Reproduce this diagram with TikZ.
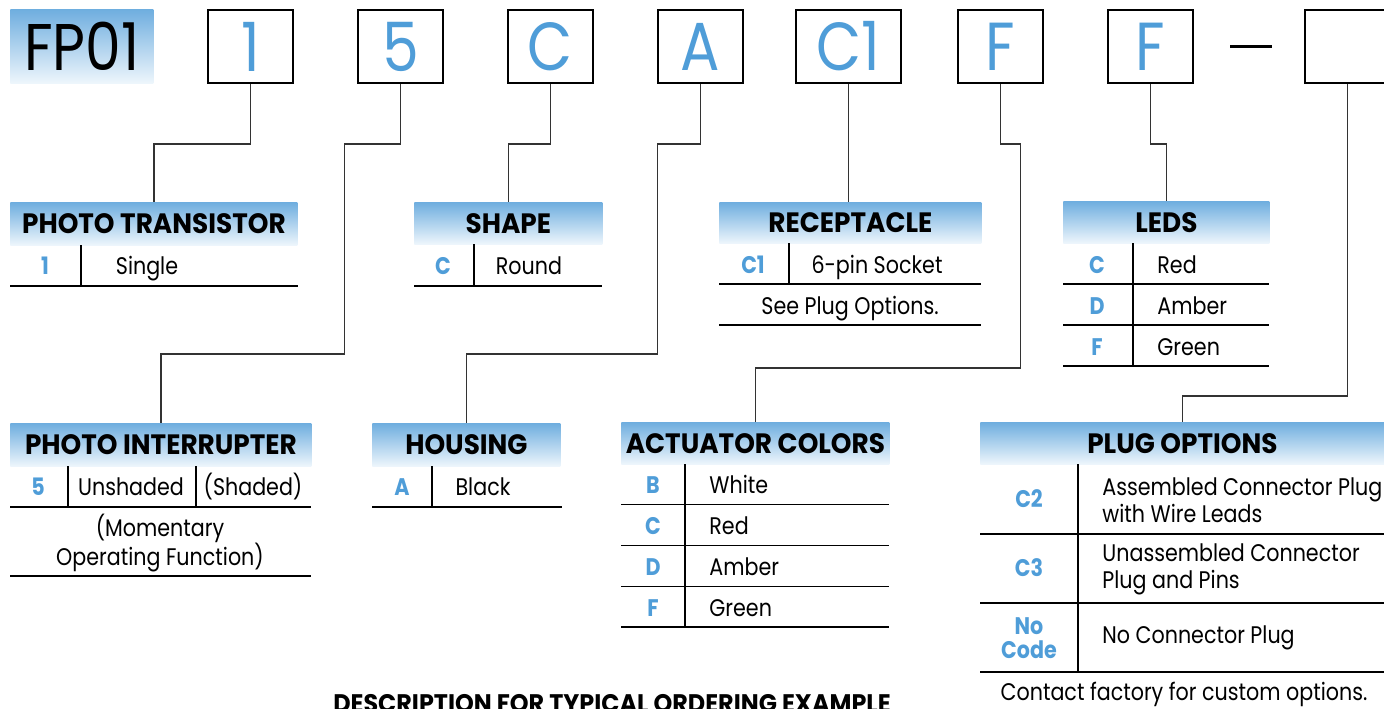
\documentclass[tikz,border=0pt]{standalone}
\usepackage{fontspec}
\setmainfont{Poppins}[FakeStretch=0.86]
\newfontfamily\hdfont{Poppins}[FakeStretch=0.94]
\usetikzlibrary{positioning,calc}
\definecolor{blue1}{HTML}{4F9DD8}
\definecolor{hdtop}{HTML}{6FAEDF}
\definecolor{hdbot}{HTML}{EEF6FC}
\definecolor{wiregray}{HTML}{333333}

\begin{document}
\begin{tikzpicture}[
    x=0.5pt, y=-0.5pt,
    digit/.style={draw, line width=1.1pt, minimum width=42.5pt,
                  minimum height=36.5pt, inner sep=0pt,
                  font=\fontsize{34}{34}\selectfont, text=blue1},
    hdr/.style={top color=hdtop, bottom color=hdbot, anchor=north west,
                minimum height=21.5pt, inner sep=0pt,
                font=\hdfont\bfseries\fontsize{14}{14}\selectfont},
    codetxt/.style={anchor=base, inner sep=0pt, text=blue1,
                    font=\bfseries\fontsize{12}{12}\selectfont},
    cell/.style={anchor=base, inner sep=0pt,
                 font=\fontsize{12}{13.5}\selectfont},
    tline/.style={line width=0.65pt},
    wire/.style={line width=0.7pt, draw=wiregray},
]
\useasboundingbox (0,0) rectangle (1384,708);

% ── part number ──
\node[top color=hdtop, bottom color=hdbot, minimum width=71.5pt,
      minimum height=37pt, inner sep=0pt, anchor=north west,
      font=\fontsize{33}{33}\selectfont] (fp) at (10,9) {FP01};

\node[digit] (b1)  at (250.5,46.5) {1};
\node[digit] (b5)  at (400.5,46.5) {5};
\node[digit] (bC)  at (550.5,46.5) {C};
\node[digit] (bA)  at (700.5,46.5) {A};
\node[digit, minimum width=52.5pt] (bC1) at (848.5,46.5) {C1};
\node[digit] (bF1) at (1000.5,46.5) {F};
\node[digit] (bF2) at (1150.5,46.5) {F};
\node[digit] (bX)  at (1347.5,46.5) {};
\draw[line width=1.5pt] ([xshift=18pt]bF2.east) -- ([xshift=-16pt]bX.west);

% ── photo transistor ──
\node[hdr, minimum width=143.5pt] (hPT) at (10,202) {PHOTO TRANSISTOR};
\draw[tline] (81,245) -- (81,286);
\draw[tline] (10,286) -- (298,286);
\node[codetxt] (pt1) at (45,274) {1};
\node[cell] (ptSingle) at (147,274) {Single};

% ── shape ──
\node[hdr, minimum width=94pt, minimum height=21pt] (hSh) at (414,202) {SHAPE};
\draw[tline] (474,244) -- (474,286);
\draw[tline] (414,286) -- (602,286);
\node[codetxt] (shC) at (443,274) {C};
\node[cell] (shRound) at (529,274) {Round};

% ── receptacle ──
\node[hdr, minimum width=131pt, minimum height=20.5pt] (hRec) at (719,202) {RECEPTACLE};
\draw[tline] (789,243) -- (789,284);
\draw[tline] (719,284) -- (981,284);
\draw[tline] (719,325) -- (981,325);
\node[codetxt] (recC1) at (753,273) {C1};
\node[cell] (recSock) at (877,273) {6-pin Socket};
\node[cell] (recSee) at (850,314) {See Plug Options.};

% ── leds ──
\node[hdr, minimum width=103pt, minimum height=21pt] (hLed) at (1063,201) {LEDS};
\draw[tline] (1133,243) -- (1133,365);
\foreach \c/\t [count=\i] in {C/Red, D/Amber, F/Green} {
  \draw[tline] (1063,243+41*\i) -- (1269,243+41*\i);
  \node[codetxt] (ledc\i) at (1097,232+41*\i) {\c};
  \node[cell, anchor=base west] (ledt\i) at (1157,232+41*\i) {\t};
}

% ── photo interrupter ──
\node[hdr, minimum width=150.5pt] (hPI) at (10,423) {PHOTO INTERRUPTER};
\draw[tline] (68,466) -- (68,507);
\draw[tline] (196,466) -- (196,507);
\draw[tline] (10,507) -- (311,507);
\draw[tline] (10,576) -- (311,576);
\node[codetxt] (pi5) at (38,495) {5};
\node[cell] (piUn) at (131,495) {Unshaded};
\node[cell] (piSh) at (253,495) {(Shaded)};
\node[cell, align=center, anchor=north, font=\fontsize{12}{14.5}\selectfont]
    (piNote) at (160,514) {(Momentary\\Operating Function)};

% ── housing ──
\node[hdr, minimum width=94pt] (hHou) at (372,423) {HOUSING};
\draw[tline] (432,466) -- (432,507);
\draw[tline] (372,507) -- (562,507);
\node[codetxt] (houA) at (402,495) {A};
\node[cell] (houBlack) at (483,495) {Black};

% ── actuator colors ──
\node[hdr, minimum width=134pt, minimum height=21pt] (hAct) at (621,422) {ACTUATOR COLORS};
\draw[tline] (685,464) -- (685,627);
\foreach \c/\t [count=\i] in {B/White, C/Red, D/Amber, F/Green} {
  \draw[tline] (621,464+40.75*\i) -- (889,464+40.75*\i);
  \node[codetxt] (actc\i) at (653,453+40.75*\i) {\c};
  \node[cell, anchor=base west] (actt\i) at (709,453+40.75*\i) {\t};
}

% ── plug options ──
\node[hdr, minimum width=202pt, minimum height=21pt] (hPlug) at (980,422) {PLUG OPTIONS};
\draw[tline] (1078,464) -- (1078,672);
\draw[tline] (980,534) -- (1384,534);
\draw[tline] (980,603) -- (1384,603);
\draw[tline] (980,672) -- (1384,672);
\node[codetxt, anchor=center] (plC2) at (1029,499) {C2};
\node[codetxt, anchor=center] (plC3) at (1029,568) {C3};
\node[codetxt, anchor=center, align=center, font=\bfseries\fontsize{12}{12}\selectfont]
    (plNo) at (1029,638) {No\\Code};
\node[cell, anchor=west, align=left] (plt2) at (1102,500) {Assembled Connector Plug\\with Wire Leads};
\node[cell, anchor=west, align=left] (plt3) at (1102,569) {Unassembled Connector\\Plug and Pins};
\node[cell, anchor=west] (plt4) at (1102,638) {No Connector Plug};
\node[cell, anchor=center] (plNote) at (1184,694) {Contact factory for custom options.};

\node[anchor=north, inner sep=0pt, font=\hdfont\bfseries\fontsize{12.7}{13}\selectfont]
    (desc) at (612,694) {DESCRIPTION FOR TYPICAL ORDERING EXAMPLE};

% ── connectors ──
\draw[wire] (b1.south) -- ++(0,60) -| (hPT.north);
\draw[wire] (b5.south) -- ++(0,60) -| ++(-56,210) -| (hPI.north);
\draw[wire] (bC.south) -- ++(0,60) -| (hSh.north);
\draw[wire] (bA.south) -- ++(0,60) -| ++(-43,210) -| (hHou.north);
\draw[wire] (bC1.south) -- (bC1.south |- hRec.north);
\draw[wire] (bF1.south) -- ++(0,60) -| ++(20,224) -| (hAct.north);
\draw[wire] (bF2.south) -- ++(0,60) -| (hLed.north);
\draw[wire] (bX.south) -- ++(0,312) -| (hPlug.north);

\end{tikzpicture}
\end{document}
